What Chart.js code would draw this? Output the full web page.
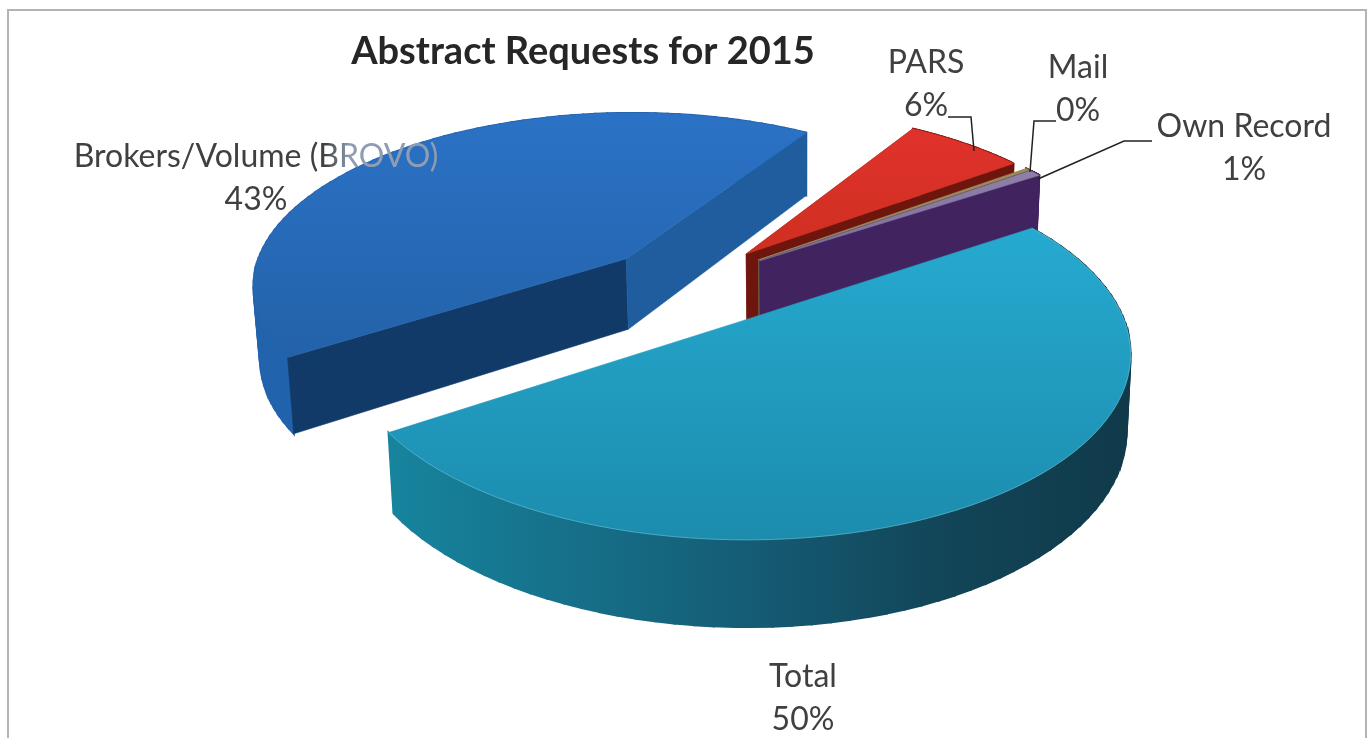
<!DOCTYPE html>
<html>
<head>
<meta charset="utf-8">
<title>Abstract Requests for 2015</title>
<script src="https://cdn.jsdelivr.net/npm/chart.js@4/dist/chart.umd.min.js"></script>
<style>
  html, body { margin: 0; background: #fff; overflow: hidden; }
  #wrap { position: relative; width: 1369px; height: 738px; }
  #frame { position: absolute; left: 7px; top: 9px; width: 1360px; height: 729px; border: 2px solid #b4b4b4; border-bottom: none; box-sizing: border-box; }
  canvas { position: absolute; left: 0; top: 0; }
</style>
</head>
<body>
<div id="wrap">
  <div id="frame"></div>
  <canvas id="chartAbstract" width="1369" height="738"></canvas>
</div>
<script>
const categories = ['Total', 'Brokers/Volume (BROVO)', 'PARS', 'Mail', 'Own Record'];
// Mail shows as a sliver in the picture but is labelled 0%
const requestShares = [50, 43, 6, 0.2, 0.6];

const TEXT_COLOR = '#404040';
const FONT = 'Lato, "Open Sans", sans-serif';

// perspective of the tilted pie
const VIEW = { cx: 684, cy: 285, rx: 376, ry: 174, k: 0.1445, depth: 72, vanishX: 800, pinch: 0.012 };
const EXPLODE = [0.25, 0.22, 0.25, 0.25, 0.25];

const SLICE_STYLES = [
  { top: ['#26aad0', '#1c8cad'], wall: [[0, '#17849e'], [0.45, '#155f78'], [0.75, '#124558'], [1, '#103a4a']], faces: false, rim: 'rgba(130,210,230,0.45)' },
  { top: ['#2b72c6', '#2362a9'], wall: [[0, '#2263ad'], [1, '#1c5a9e']], faces: true, startFace: '#113a68', endFace: '#1f5d9f', rim: null },
  { top: ['#e0322c', '#cf2f20'], wall: [[0, '#7a1a10'], [1, '#7a1a10']], faces: true, startFace: '#7a1a10', endFace: '#6e160e', rim: null },
  { top: ['#a08a5c', '#a08a5c'], wall: [[0, '#6a5a40'], [1, '#6a5a40']], faces: true, startFace: '#6a5a40', endFace: '#6a5a40', rim: null },
  { top: ['#8f80a8', '#7d6f9c'], wall: [[0, '#40235f'], [1, '#40235f']], faces: true, startFace: '#40235f', endFace: '#40235f', rim: null }
];
const DRAW_ORDER = [1, 2, 3, 4, 0];

// label anchors, leader lines
const LABEL_SPOTS = [
  { x: 803, y: 677 },
  { x: 256, y: 157 },
  { x: 926, y: 63 },
  { x: 1078, y: 68 },
  { x: 1244, y: 127 }
];
const LEADERS = [
  null,
  null,
  [[948, 117], [971, 117], [974, 151]],
  [[1056, 121], [1034, 121], [1030, 172]],
  [[1152, 141], [1124, 141], [1038, 179]]
];

function project(angle, radius, mid, explode, level) {
  const u = Math.cos(angle) * radius + explode * Math.cos(mid);
  const v = Math.sin(angle) * radius + explode * Math.sin(mid);
  const w = 1 / (1 - VIEW.k * v);
  let x = VIEW.cx + VIEW.rx * u * w;
  const y = VIEW.cy + VIEW.ry * v * w + VIEW.depth * level * w;
  x += (VIEW.vanishX - x) * VIEW.pinch * level;
  return [x, y];
}

// the stroke in the fill colour closes hairline seams between neighbours
function fillPoly(ctx, pts, style, seam = 0.6) {
  ctx.beginPath();
  pts.forEach((p, i) => i ? ctx.lineTo(p[0], p[1]) : ctx.moveTo(p[0], p[1]));
  ctx.closePath();
  ctx.fillStyle = style;
  ctx.fill();
  ctx.strokeStyle = style;
  ctx.lineWidth = seam;
  ctx.stroke();
}

function drawSlice(ctx, arc, style, explode) {
  const { startAngle, endAngle } = arc;
  const mid = (startAngle + endAngle) / 2;
  const steps = 72;
  const rimTop = [], rimBottom = [];
  for (let i = 0; i <= steps; i++) {
    const a = startAngle + (endAngle - startAngle) * i / steps;
    rimTop.push(project(a, 1, mid, explode, 0));
    rimBottom.push(project(a, 1, mid, explode, 1));
  }
  const apexTop = project(0, 0, mid, explode, 0);
  const apexBottom = project(0, 0, mid, explode, 1);

  const xs = rimTop.concat(rimBottom).map(p => p[0]);
  const ys = rimTop.concat([apexTop]).map(p => p[1]);
  const wallFill = ctx.createLinearGradient(Math.min(...xs), 0, Math.max(...xs), 0);
  style.wall.forEach(s => wallFill.addColorStop(s[0], s[1]));
  const topFill = ctx.createLinearGradient(0, Math.min(...ys), 0, Math.max(...ys));
  topFill.addColorStop(0, style.top[0]);
  topFill.addColorStop(1, style.top[1]);

  for (let i = 0; i < steps; i++) {
    fillPoly(ctx, [rimTop[i], rimTop[i + 1], rimBottom[i + 1], rimBottom[i]], wallFill, 2);
  }
  if (style.faces) {
    fillPoly(ctx, [apexTop, rimTop[0], rimBottom[0], apexBottom], style.startFace);
    fillPoly(ctx, [apexTop, rimTop[steps], rimBottom[steps], apexBottom], style.endFace);
  }
  fillPoly(ctx, [apexTop].concat(rimTop), topFill);

  if (style.rim) {
    ctx.beginPath();
    rimTop.forEach((p, i) => i ? ctx.lineTo(p[0], p[1]) : ctx.moveTo(p[0], p[1]));
    ctx.strokeStyle = style.rim;
    ctx.lineWidth = 1;
    ctx.stroke();
  }
}

function drawLabels(ctx) {
  const total = requestShares.reduce((a, b) => a + b, 0);
  ctx.textAlign = 'center';
  ctx.textBaseline = 'middle';
  ctx.font = '32px ' + FONT;
  categories.forEach((name, i) => {
    const spot = LABEL_SPOTS[i];
    let fill = TEXT_COLOR;
    if (i === 1) {
      // end of this label runs over the blue slice and reads faint there
      fill = ctx.createLinearGradient(325, 0, 350, 0);
      fill.addColorStop(0, TEXT_COLOR);
      fill.addColorStop(1, '#8f9db4');
    }
    ctx.fillStyle = fill;
    ctx.fillText(name, spot.x, spot.y);
    ctx.fillStyle = TEXT_COLOR;
    ctx.fillText(Math.round(requestShares[i] / total * 100) + '%', spot.x, spot.y + 43);
  });

  ctx.strokeStyle = '#222';
  ctx.lineWidth = 1.5;
  LEADERS.forEach(line => {
    if (!line) return;
    ctx.beginPath();
    line.forEach((p, i) => i ? ctx.lineTo(p[0], p[1]) : ctx.moveTo(p[0], p[1]));
    ctx.stroke();
  });
}

const tiltedPie = {
  id: 'tiltedPie',
  beforeDatasetsDraw(chart) {
    const ctx = chart.ctx;
    const arcs = chart.getDatasetMeta(0).data;
    // slices go to a scratch canvas first so the soft edge is applied once
    const scratch = document.createElement('canvas');
    scratch.width = chart.width;
    scratch.height = chart.height;
    const sctx = scratch.getContext('2d');
    DRAW_ORDER.forEach(i => drawSlice(sctx, arcs[i], SLICE_STYLES[i], EXPLODE[i]));
    ctx.save();
    ctx.filter = 'blur(0.7px)';
    ctx.drawImage(scratch, 0, 0);
    ctx.filter = 'none';
    drawLabels(ctx);
    ctx.restore();
    return false;
  }
};

new Chart(document.getElementById('chartAbstract'), {
  type: 'pie',
  data: {
    labels: categories,
    datasets: [{ data: requestShares, backgroundColor: SLICE_STYLES.map(s => s.top[0]) }]
  },
  options: {
    responsive: false,
    animation: false,
    rotation: 56.5,
    layout: { padding: { top: 20, right: 203 } },
    plugins: {
      legend: { display: false },
      tooltip: { enabled: false },
      title: {
        display: true,
        text: 'Abstract Requests for 2015',
        color: '#262626',
        font: { family: FONT, size: 38, weight: 'bold' },
        padding: { top: 9, bottom: 8 }
      }
    }
  },
  plugins: [tiltedPie]
});
</script>
</body>
</html>
